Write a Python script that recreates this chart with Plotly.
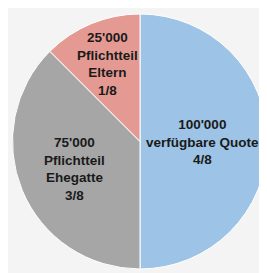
import math
import plotly.graph_objects as go

amounts = [100000, 75000, 25000]
names = ["verfügbare Quote", "Pflichtteil Ehegatte", "Pflichtteil Eltern"]
name_lines = [["verfügbare Quote"], ["Pflichtteil", "Ehegatte"], ["Pflichtteil", "Eltern"]]
fractions = ["4/8", "3/8", "1/8"]
colors = ["#9DC3E6", "#A6A6A6", "#E49A92"]
label_radius = [0.49, 0.56, 0.66]  # styling: relative label distance from centre

W, H = 267, 273
dom_x = [4.5 / W, 259.5 / W]
dom_y = [12 / H, 267 / H]

def fmt(v):
    return f"{v:,}".replace(",", "'")

fig = go.Figure()
fig.add_trace(go.Pie(
    values=amounts,
    labels=names,
    sort=False,
    direction="clockwise",
    rotation=0,
    textinfo="none",
    hoverinfo="label+value",
    marker=dict(colors=colors, line=dict(color="#ffffff", width=1)),
    domain=dict(x=dom_x, y=dom_y),
    showlegend=False,
))

# pie geometry in pixels (margins are zero)
px0, px1 = dom_x[0] * W, dom_x[1] * W
py0, py1 = (1 - dom_y[1]) * H, (1 - dom_y[0]) * H
cx, cy = (px0 + px1) / 2, (py0 + py1) / 2
R = min(px1 - px0, py1 - py0) / 2

total = sum(amounts)
cum = 0
annotations = []
for v, lines, fr, rf in zip(amounts, name_lines, fractions, label_radius):
    mid = (cum + v / 2) / total * 2 * math.pi
    cum += v
    lx = cx + rf * R * math.sin(mid)
    ly = cy - rf * R * math.cos(mid)
    text = "<br>".join([fmt(v)] + lines + [fr])
    annotations.append(dict(
        x=lx / W, y=1 - ly / H, xref="paper", yref="paper",
        text=f"<b>{text}</b>", showarrow=False,
        font=dict(family="Liberation Sans, Arial", size=13.5, color="#1a1a1a"),
        align="center", xanchor="center", yanchor="middle",
    ))

fig.update_layout(
    width=W, height=H,
    margin=dict(l=0, r=0, t=0, b=0),
    paper_bgcolor="#f4f4f4",
    plot_bgcolor="#f4f4f4",
    annotations=annotations,
)

fig.write_html("out.html")
